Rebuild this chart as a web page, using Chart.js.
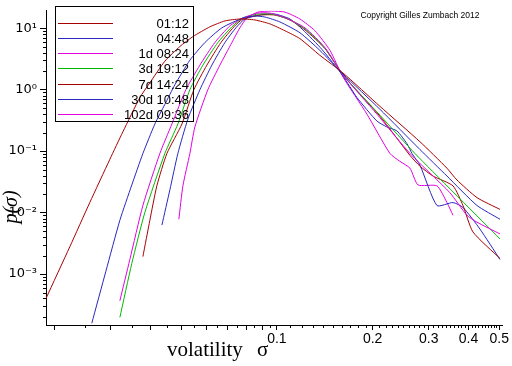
<!DOCTYPE html>
<html>
<head>
<meta charset="utf-8">
<script src="https://cdn.jsdelivr.net/npm/chart.js@4/dist/chart.umd.min.js"></script>
<style>
  html, body { margin: 0; padding: 0; background: #fff; }
  #wrap { width: 512px; height: 366px; }
</style>
</head>
<body>
<div id="wrap"><canvas id="chart" width="512" height="366"></canvas></div>
<script>
// --- data (sigma = volatility, p = density) ---
const seriesLabels = ['01:12', '04:48', '1d 08:24', '3d 19:12', '7d 14:24', '30d 10:48', '102d 09:36']

const sigma0112 = [0.01878, 0.02234, 0.02581, 0.02984, 0.03279, 0.03709, 0.03987, 0.04444, 0.04955, 0.05443, 0.06157, 0.06864, 0.07649, 0.08527, 0.09506, 0.1060, 0.1181, 0.1365, 0.1613, 0.2108, 0.2817, 0.3424, 0.3681, 0.4256, 0.5027]
const p0112 = [3.96e-4, 2.78e-3, 0.01455, 0.0734, 0.2056, 0.745, 1.294, 2.906, 5.045, 7.289, 10.53, 13.13, 14.13, 13.62, 11.76, 9.09, 6.77, 3.62, 1.87, 0.535, 0.142, 0.0527, 0.0339, 0.0175, 0.01125]

const sigma0448 = [0.02619, 0.02900, 0.03209, 0.03499, 0.03791, 0.04134, 0.04444, 0.04778, 0.05327, 0.05939, 0.06716, 0.07819, 0.08527, 0.09168, 0.1022, 0.1181, 0.1365, 0.1613, 0.2108, 0.2817, 0.3424, 0.4256, 0.5027]
const p0448 = [0.000158, 0.00111, 0.0075, 0.0282, 0.0915, 0.276, 0.576, 1.20, 3.02, 5.85, 10.15, 14.66, 15.78, 15.21, 12.65, 8.44, 4.36, 1.80, 0.479, 0.106, 0.0393, 0.01303, 0.00778]

const sigma1d = [0.03209, 0.03449, 0.03791, 0.04286, 0.04676, 0.05175, 0.05728, 0.06383, 0.07116, 0.07819, 0.08716, 0.09506, 0.1067, 0.1225, 0.1415, 0.1613, 0.2063, 0.2620, 0.3095, 0.3499, 0.3958, 0.4256, 0.5027]
const p1d = [0.000367, 0.00172, 0.01303, 0.0915, 0.276, 1.00, 2.51, 5.85, 10.92, 14.66, 17.62, 17.62, 14.66, 10.15, 4.86, 1.74, 0.399, 0.0915, 0.0393, 0.0210, 0.00902, 0.00697, 0.00449]

const sigma3d = [0.03209, 0.03499, 0.03846, 0.04444, 0.04883, 0.05327, 0.05853, 0.06524, 0.07220, 0.07819, 0.08716, 0.09645, 0.1083, 0.1225, 0.1415, 0.1613, 0.2108, 0.2716, 0.5027]
const p3d = [0.000197, 0.00149, 0.01008, 0.0915, 0.276, 1.00, 2.51, 5.85, 10.53, 14.66, 16.98, 16.98, 14.13, 9.78, 4.69, 1.74, 0.384, 0.0915, 0.00373]

const sigma7d = [0.03791, 0.03987, 0.04194, 0.04510, 0.05028, 0.05483, 0.06025, 0.06668, 0.07326, 0.07819, 0.08841, 0.09856, 0.1099, 0.1225, 0.1415, 0.1613, 0.2108, 0.2620, 0.2817, 0.3095, 0.3576, 0.3845, 0.4134, 0.5027]
const p7d = [0.00192, 0.0075, 0.0272, 0.0915, 0.276, 1.00, 2.51, 5.85, 10.53, 14.13, 16.37, 16.37, 13.62, 9.43, 4.69, 1.74, 0.370, 0.0851, 0.0568, 0.0393, 0.0272, 0.01303, 0.00483, 0.00179]

const sigma30d = [0.04350, 0.04609, 0.04883, 0.05250, 0.05728, 0.06246, 0.06864, 0.07433, 0.07933, 0.08841, 0.09856, 0.1099, 0.1207, 0.1385, 0.1613, 0.1785, 0.2063, 0.2218, 0.2384, 0.2564, 0.2658, 0.2817, 0.3185, 0.3576, 0.3845, 0.4348, 0.5027]
const p30d = [0.00625, 0.0235, 0.0915, 0.332, 1.00, 2.51, 5.85, 10.15, 14.13, 16.37, 16.98, 14.13, 9.43, 4.52, 1.67, 0.745, 0.308, 0.247, 0.213, 0.132, 0.0915, 0.0589, 0.01303, 0.01455, 0.01211, 0.00539, 0.00172]

const sigma102d = [0.04918, 0.05064, 0.05327, 0.05523, 0.06067, 0.06620, 0.07220, 0.07649, 0.08049, 0.08716, 0.09645, 0.1060, 0.1181, 0.1317, 0.1468, 0.1613, 0.1919, 0.2266, 0.2436, 0.2620, 0.2776, 0.3185, 0.3424, 0.3576]
const p102d = [0.00778, 0.0272, 0.0915, 0.247, 1.00, 2.51, 5.85, 10.15, 14.66, 18.28, 19.0, 18.28, 14.13, 9.09, 4.36, 1.61, 0.399, 0.0915, 0.0682, 0.0527, 0.0282, 0.0272, 0.01455, 0.00902]

// tick values
const xTicks = [0.02, 0.03, 0.04, 0.05, 0.06, 0.07, 0.08, 0.09, 0.1, 0.2, 0.3, 0.4, 0.5]
const xTickLabels = ['', '', '', '', '', '', '', '', '0.1', '0.2', '0.3', '0.4', '0.5']
const yTicks = [1e-3, 1e-2, 1e-1, 1, 10]
const yTickLabels = ['10\u207B\u00B3', '10\u207B\u00B2', '10\u207B\u00B9', '10\u2070', '10\u00B9']

const colors = ['#a80000', '#2828c0', '#e000e0', '#00b800', '#a80000', '#2828c0', '#e000e0']

const sigmas = [sigma0112, sigma0448, sigma1d, sigma3d, sigma7d, sigma30d, sigma102d]
const dens = [p0112, p0448, p1d, p3d, p7d, p30d, p102d]

const datasets = seriesLabels.map((label, i) => ({
  label: label,
  data: sigmas[i].map((s, k) => ({ x: s, y: dens[i][k] })),
  showLine: true,
  borderColor: colors[i],
  borderWidth: 1,
  pointRadius: 0,
  tension: 0.2,
  fill: false
}))

// minor ticks, legend, titles
const extras = {
  id: 'extras',
  afterDraw(chart) {
    const { ctx, chartArea: a } = chart
    const x = chart.scales.x
    const y = chart.scales.y
    ctx.save()
    ctx.strokeStyle = '#000'
    ctx.lineWidth = 1
    ctx.beginPath()
    const xMinor = []
    for (let k = 2; k < 10; k++) xMinor.push(k * 0.01 + 0.005)
    for (let k = 11; k < 50; k++) if (k % 10) xMinor.push(k * 0.01)
    xMinor.forEach(v => {
      const px = Math.round(x.getPixelForValue(v)) + 0.5
      ctx.moveTo(px, a.bottom)
      ctx.lineTo(px, a.bottom + 3)
    })
    ;[1e-4, 1e-3, 1e-2, 1e-1, 1, 10].forEach(d => {
      for (let k = 2; k < 10; k++) {
        const v = d * k
        if (v < y.min || v > y.max) continue
        const py = Math.round(y.getPixelForValue(v)) + 0.5
        ctx.moveTo(a.left - 3, py)
        ctx.lineTo(a.left, py)
      }
    })
    ctx.stroke()

    // legend
    ctx.strokeRect(55.5, 6.5, 138, 115)
    ctx.font = '13px "Liberation Sans", Arial, sans-serif'
    ctx.textAlign = 'right'
    ctx.textBaseline = 'middle'
    chart.data.datasets.forEach((ds, i) => {
      const ly = Math.round(22.7 + i * 15.2) + 0.5
      ctx.strokeStyle = ds.borderColor
      ctx.beginPath()
      ctx.moveTo(58, ly)
      ctx.lineTo(113, ly)
      ctx.stroke()
      ctx.fillStyle = '#000'
      ctx.fillText(ds.label, 189, ly + 1)
    })

    // copyright
    ctx.font = '8.5px "Liberation Sans", Arial, sans-serif'
    ctx.textAlign = 'center'
    ctx.fillText('Copyright Gilles Zumbach 2012', 420, 16)

    // x title
    ctx.font = '21px "Liberation Serif", "Times New Roman", serif'
    ctx.textAlign = 'left'
    ctx.textBaseline = 'alphabetic'
    ctx.fillText('volatility', 167, 356)
    ctx.fillText('\u03C3', 257, 356)

    // y title
    ctx.translate(12, 207)
    ctx.rotate(-Math.PI / 2)
    ctx.font = 'italic 20px "Liberation Serif", "Times New Roman", serif'
    ctx.textAlign = 'center'
    ctx.textBaseline = 'middle'
    ctx.fillText('p(\u03C3)', 0, 0)
    ctx.restore()
  }
}

new Chart(document.getElementById('chart'), {
  type: 'scatter',
  data: { datasets: datasets },
  options: {
    responsive: false,
    animation: false,
    layout: { padding: { top: 5, right: 10, left: 0, bottom: 0 } },
    plugins: { legend: { display: false }, tooltip: { enabled: false } },
    scales: {
      x: {
        type: 'logarithmic',
        min: 0.0188,
        max: 0.51,
        afterBuildTicks: s => { s.ticks = xTicks.map(v => ({ value: v })) },
        afterFit: s => { s.height = 41 },
        ticks: {
          autoSkip: false,
          maxRotation: 0,
          padding: 1,
          color: '#000',
          font: { family: '"Liberation Sans", Arial, sans-serif', size: 14 },
          callback: v => xTickLabels[xTicks.indexOf(v)] || ''
        },
        grid: { drawOnChartArea: false, tickLength: 5, color: '#000' },
        border: { color: '#000', width: 1 }
      },
      y: {
        type: 'logarithmic',
        min: 1.48e-4,
        max: 19.2,
        afterBuildTicks: s => { s.ticks = yTicks.map(v => ({ value: v })) },
        afterFit: s => { s.width = 46 },
        ticks: {
          autoSkip: false,
          padding: 3,
          color: '#000',
          font: { family: '"DejaVu Sans", sans-serif', size: 13 },
          callback: v => yTickLabels[yTicks.indexOf(v)] || ''
        },
        grid: { drawOnChartArea: false, tickLength: 6, color: '#000' },
        border: { color: '#000', width: 1 }
      }
    }
  },
  plugins: [extras]
})
</script>
</body>
</html>
